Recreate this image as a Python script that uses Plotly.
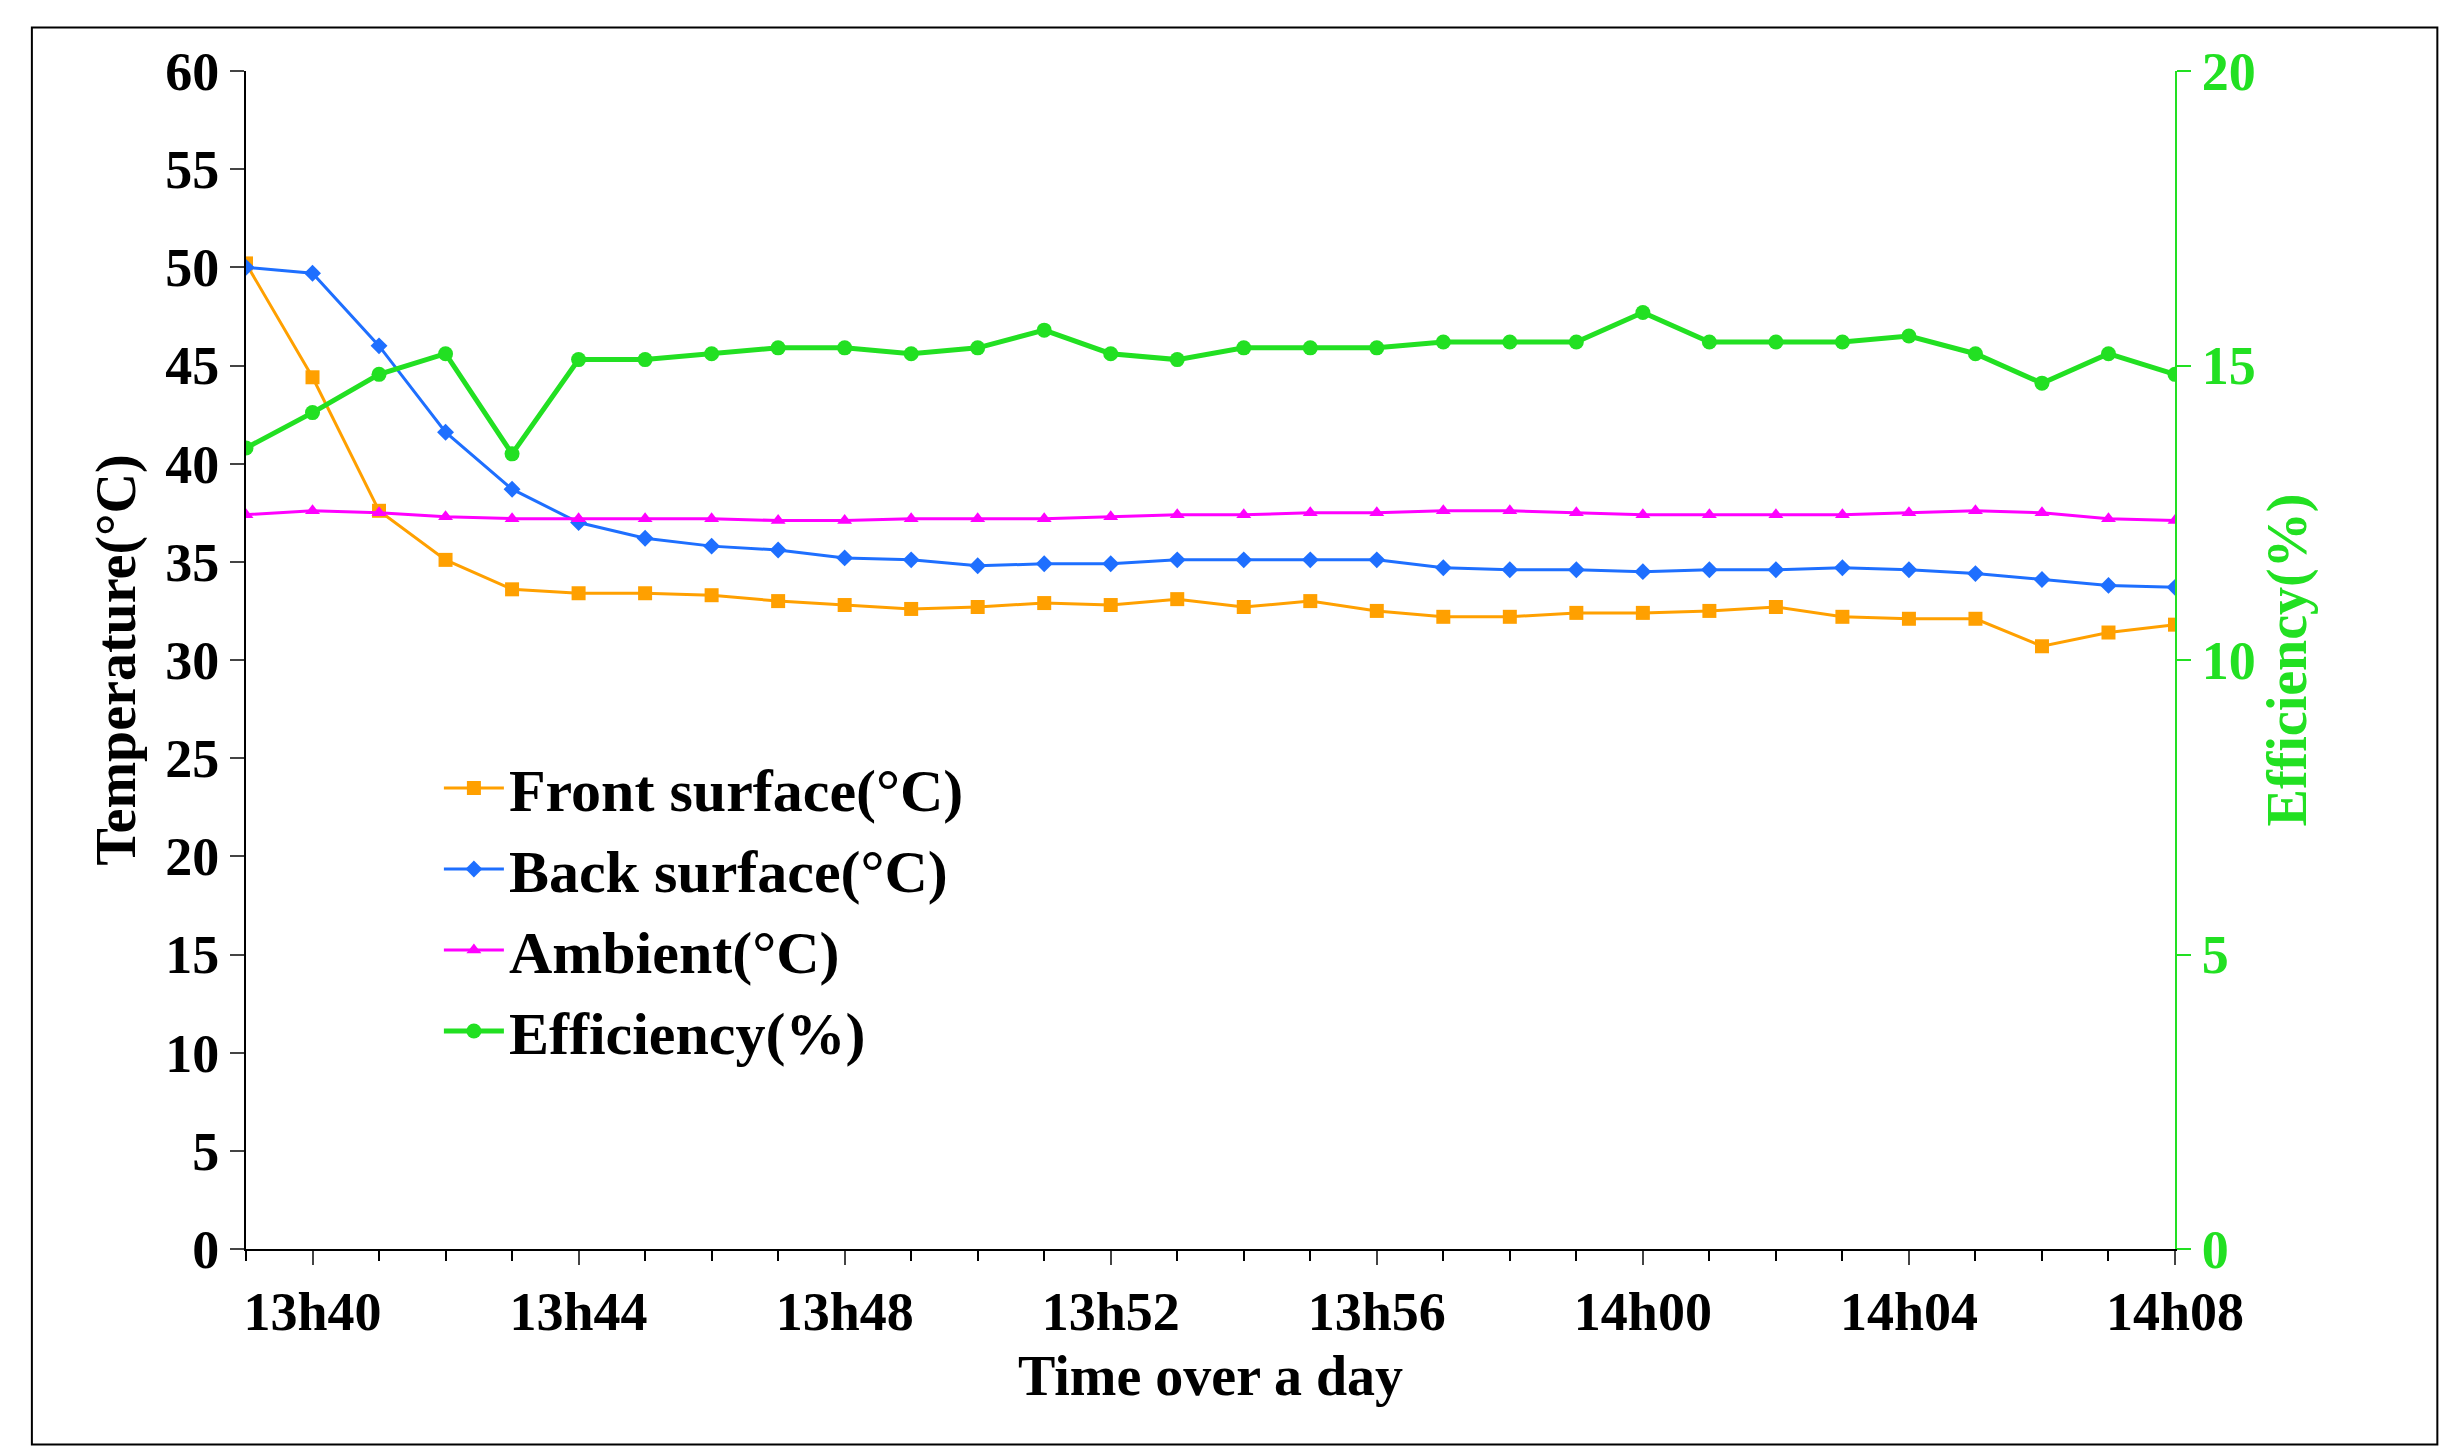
import plotly.graph_objects as go

times = ["13h39","13h40","13h41","13h42","13h43","13h44","13h45","13h46","13h47","13h48",
         "13h49","13h50","13h51","13h52","13h53","13h54","13h55","13h56","13h57","13h58",
         "13h59","14h00","14h01","14h02","14h03","14h04","14h05","14h06","14h07","14h08"]
front = [50.2,44.4,37.6,35.1,33.6,33.4,33.4,33.3,33.0,32.8,32.6,32.7,32.9,32.8,33.1,32.7,33.0,32.5,32.2,32.2,32.4,32.4,32.5,32.7,32.2,32.1,32.1,30.7,31.4,31.8]
back = [50.0,49.7,46.0,41.6,38.7,37.0,36.2,35.8,35.6,35.2,35.1,34.8,34.9,34.9,35.1,35.1,35.1,35.1,34.7,34.6,34.6,34.5,34.6,34.6,34.7,34.6,34.4,34.1,33.8,33.7]
ambient = [37.4,37.6,37.5,37.3,37.2,37.2,37.2,37.2,37.1,37.1,37.2,37.2,37.2,37.3,37.4,37.4,37.5,37.5,37.6,37.6,37.5,37.4,37.4,37.4,37.4,37.5,37.6,37.5,37.2,37.1]
eff = [13.6,14.2,14.85,15.2,13.5,15.1,15.1,15.2,15.3,15.3,15.2,15.3,15.6,15.2,15.1,15.3,15.3,15.3,15.4,15.4,15.4,15.9,15.4,15.4,15.4,15.5,15.2,14.7,15.2,14.85]
tick_labels = ["13h40","13h44","13h48","13h52","13h56","14h00","14h04","14h08"]

x = list(range(len(times)))
tickvals = [times.index(t) for t in tick_labels]
F = "Liberation Serif"
G = "#22E022"

fig = go.Figure()
fig.add_trace(go.Scatter(x=x, y=front, name="Front surface(°C)", mode="lines+markers",
    line=dict(color="#FFA000", width=3), marker=dict(symbol="square", size=14, color="#FFA000")))
fig.add_trace(go.Scatter(x=x, y=back, name="Back surface(°C)", mode="lines+markers",
    line=dict(color="#1E6FFF", width=3), marker=dict(symbol="diamond", size=13, color="#1E6FFF")))
fig.add_trace(go.Scatter(x=x, y=ambient, name="Ambient(°C)", mode="lines+markers",
    line=dict(color="#FF00FF", width=3), marker=dict(symbol="triangle-up", size=13, color="#FF00FF")))
fig.add_trace(go.Scatter(x=x, y=eff, name="Efficiency(%)", mode="lines+markers", yaxis="y2",
    line=dict(color=G, width=5), marker=dict(symbol="circle", size=15, color=G)))

fig.update_layout(
    width=2453, height=1455, plot_bgcolor="white", paper_bgcolor="white",
    margin=dict(l=238, r=286, t=63, b=214),
    font=dict(family=F, size=54, color="black"),
    xaxis=dict(range=[0, 29], tickvals=tickvals, ticktext=tick_labels, showgrid=False,
        showline=True, linecolor="black", linewidth=2, ticks="outside", ticklen=14, tickwidth=2,
        minor=dict(dtick=1, ticks="outside", ticklen=10, tickwidth=2, tickcolor="black"),
        tickfont=dict(family=F, size=54, weight="bold"),
        title=dict(text="<b>Time over a day</b>", font=dict(family=F, size=56), standoff=15), zeroline=False),
    yaxis=dict(range=[0, 60], dtick=5, showgrid=False, showline=True, linecolor="black", linewidth=2,
        ticks="outside", ticklen=14, tickwidth=2, tickfont=dict(family=F, size=54, weight="bold"),
        title=dict(text="<b>Temperature(°C)</b>", font=dict(family=F, size=56), standoff=12), zeroline=False),
    yaxis2=dict(range=[0, 20], dtick=5, overlaying="y", side="right", showgrid=False, showline=True,
        linecolor=G, linewidth=2, ticks="outside", ticklen=14, tickwidth=2, tickcolor=G,
        tickfont=dict(family=F, size=54, color=G, weight="bold"),
        title=dict(text="<b>Efficiency(%)</b>", font=dict(family=F, size=56, color=G), standoff=12), zeroline=False),
    legend=dict(x=0.1, y=0.43, xanchor="left", yanchor="top", bgcolor="rgba(0,0,0,0)",
        font=dict(family=F, size=60, weight="bold"), tracegroupgap=0, itemwidth=60),
    shapes=[dict(type="rect", xref="paper", yref="paper", x0=-0.111, x1=1.136, y0=-0.166, y1=1.037,
        line=dict(color="black", width=2))],
)
fig.write_html("out.html")
